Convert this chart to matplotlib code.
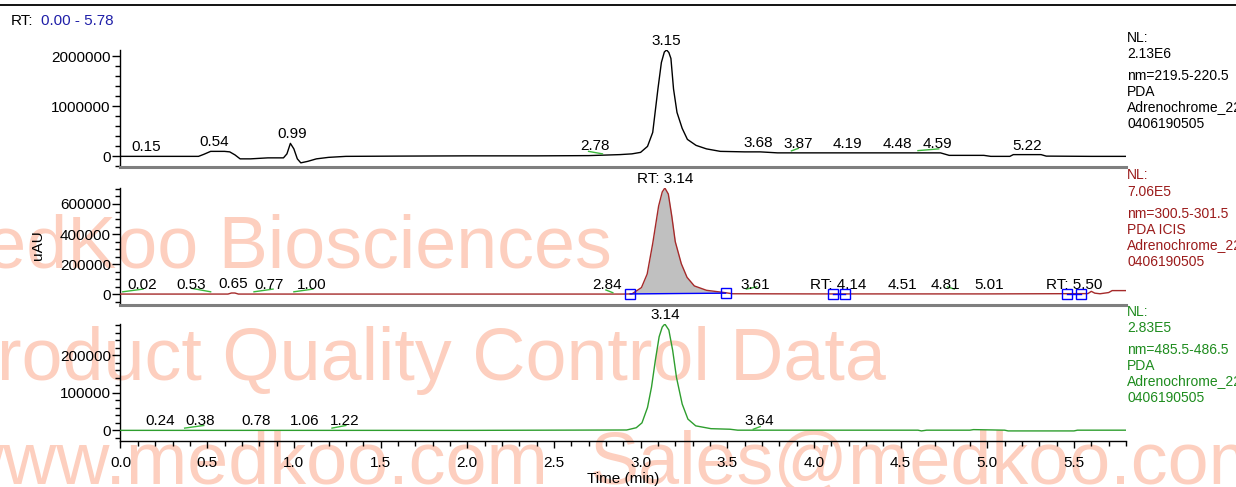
import numpy as np
import matplotlib
matplotlib.use('Agg')
import matplotlib.pyplot as plt
from matplotlib.ticker import MultipleLocator, FuncFormatter

plt.rcParams['font.family'] = ['Liberation Sans', 'DejaVu Sans']

# ---------------- data ----------------
# Panel 1: PDA nm=219.5-220.5 (black)
t1 = [0.00, 0.45, 0.48, 0.52, 0.60, 0.63, 0.66, 0.69, 0.75, 0.85, 0.94, 0.96, 0.98, 1.00,
      1.02, 1.04, 1.08, 1.13, 1.20, 1.30, 1.60, 2.00, 2.40, 2.70, 2.88, 2.95, 3.00, 3.04,
      3.07, 3.10, 3.12, 3.137, 3.15, 3.163, 3.175, 3.19, 3.21, 3.24, 3.27, 3.32, 3.38,
      3.46, 3.60, 3.69, 3.79, 4.20, 4.73, 4.78, 4.98, 5.02, 5.13, 5.15, 5.31, 5.34, 5.60, 5.80]
v1 = [0, 0, 40000, 100000, 100000, 90000, 30000, -50000, -50000, -30000, -30000, 50000,
      260000, 150000, -50000, -130000, -100000, -50000, -20000, 0, 5000, 10000, 10000,
      15000, 35000, 50000, 80000, 200000, 480000, 1350000, 1880000, 2090000, 2130000,
      2080000, 1960000, 1350000, 880000, 560000, 340000, 220000, 150000, 100000, 90000,
      90000, 70000, 70000, 70000, 20000, 20000, 0, 0, 35000, 35000, 5000, 0, 0]
peaks1_rt = [0.15, 0.54, 0.99, 2.78, 3.15, 3.68, 3.87, 4.19, 4.48, 4.59, 5.22]
peaks1_h = [0, 100000, 260000, 20000, 2130000, 90000, 70000, 70000, 70000, 70000, 35000]
labels1 = ['0.15', '0.54', '0.99', '2.78', '3.15', '3.68', '3.87', '4.19', '4.48', '4.59', '5.22']

# Panel 2: PDA ICIS nm=300.5-301.5 (dark red)
t2 = [0.00, 0.62, 0.64, 0.66, 0.68, 2.90, 2.95, 3.005, 3.038, 3.07, 3.104, 3.125, 3.14,
      3.16, 3.18, 3.20, 3.235, 3.268, 3.31, 3.38, 3.49, 3.53, 4.00, 5.00, 5.58, 5.60, 5.62,
      5.65, 5.70, 5.72, 5.80]
v2 = [2000, 2000, 9000, 9000, 2000, 2000, 3000, 45000, 135000, 338000, 586000, 680000,
      706000, 666000, 519000, 350000, 203000, 113000, 56000, 27000, 11000, 4000, 3000,
      3000, 5000, 20000, 8000, 4000, 12000, 25000, 25000]
peaks2_rt = [0.02, 0.53, 0.65, 0.77, 1.00, 2.84, 3.14, 3.61, 4.14, 4.51, 4.81, 5.01, 5.50]
peaks2_h = [2000, 2000, 9000, 2000, 2000, 2000, 706000, 4000, 3000, 3000, 3000, 3000, 5000]
labels2 = ['0.02', '0.53', '0.65', '0.77', '1.00', '2.84', 'RT: 3.14', '3.61', 'RT: 4.14',
           '4.51', '4.81', '5.01', 'RT: 5.50']
# integration boundaries (start, end) of detected peaks
bounds2 = [(2.94, 3.49), (4.11, 4.18), (5.46, 5.54)]
base2 = [(3000, 8000), (3000, 3000), (3000, 3000)]

# Panel 3: PDA nm=485.5-486.5 (green)
t3 = [0.00, 1.20, 2.00, 2.92, 2.975, 3.008, 3.04, 3.063, 3.085, 3.107, 3.125, 3.14, 3.163,
      3.185, 3.207, 3.24, 3.273, 3.318, 3.406, 3.516, 3.56, 4.60, 4.62, 4.65, 4.90, 4.92,
      5.10, 5.12, 5.50, 5.52, 5.80]
v3 = [0, 0, 0, 1000, 7000, 20000, 61000, 115000, 186000, 249000, 275000, 283000, 267000,
      213000, 141000, 70000, 30000, 12000, 4500, 3000, 500, 500, -1500, 500, 500, 2000,
      500, -1500, -1500, 500, 500]
peaks3_rt = [0.24, 0.38, 0.78, 1.06, 1.22, 3.14, 3.64]
peaks3_h = [0, 0, 0, 0, 0, 283000, 500]
labels3 = ['0.24', '0.38', '0.78', '1.06', '1.22', '3.14', '3.64']

# small green peak-baseline marks (t0, v0, t1, v1)
marks1 = [(2.70, 100000, 2.78, 50000), (3.87, 110000, 3.91, 160000), (4.60, 115000, 4.72, 150000)]
marks2 = [(0.013, 17000, 0.13, 35000), (0.41, 40000, 0.52, 17000), (0.77, 17000, 0.88, 35000),
          (1.00, 17000, 1.11, 35000), (2.80, 29000, 2.84, 11000), (3.61, 35000, 3.67, 50000),
          (4.77, 50000, 4.81, 35000)]
marks3 = [(0.37, 6000, 0.48, 13000), (1.22, 6000, 1.30, 13000), (3.65, 3000, 3.69, 10000)]

NL = [2.13e6, 7.06e5, 2.83e5]
info = [['NL:', '2.13E6', 'nm=219.5-220.5', 'PDA', 'Adrenochrome_22', '0406190505'],
        ['NL:', '7.06E5', 'nm=300.5-301.5', 'PDA ICIS', 'Adrenochrome_22', '0406190505'],
        ['NL:', '2.83E5', 'nm=485.5-486.5', 'PDA', 'Adrenochrome_22', '0406190505']]

# ---------------- layout / style ----------------
W, H = 1236, 487
fig = plt.figure(figsize=(W / 100, H / 100), dpi=100)

line_colors = ['black', '#A52A2A', '#2E9E2E']
text_colors = ['black', '#9B1B1B', '#1E8C1E']
mark_color = '#3CB83C'
# label x offsets in pixels (to reproduce label spreading)
dx1 = [0, 0, 0, -7, 0, 0, 7, 1, 0, 21, 2]
dx2 = [18, -21, 0, 15, 18, -6, 0, 9, 0, 0, -9, 0, 0]
dx3 = [-2, 14, 0, 0, 13, 0, 8]

left_px, right_px = 120.5, 1126
panel_tops = [50, 188, 324]
panel_h = 117

def fx(px):
    return px / W

def fy(py):
    return 1 - py / H

# watermark (behind axes)
wm_color = '#FDCFBF'
wm_size = 53
fig.text(fx(612), fy(268), 'MedKoo Biosciences', ha='right', va='baseline',
         fontsize=wm_size, color=wm_color, zorder=-5)
fig.text(fx(886), fy(380), 'Product Quality Control Data', ha='right', va='baseline',
         fontsize=wm_size, color=wm_color, zorder=-5)
fig.text(fx(548), fy(484), 'www.medkoo.com', ha='right', va='baseline',
         fontsize=wm_size, color=wm_color, zorder=-5)
fig.text(fx(590), fy(484), 'Sales@medkoo.com', ha='left', va='baseline',
         fontsize=wm_size, color=wm_color, zorder=-5)

fmt = FuncFormatter(lambda v, p: f"{int(round(v))}")

series = [(t1, v1), (t2, v2), (t3, v3)]
peaks = [(peaks1_rt, peaks1_h, labels1, dx1), (peaks2_rt, peaks2_h, labels2, dx2),
         (peaks3_rt, peaks3_h, labels3, dx3)]
marks = [marks1, marks2, marks3]
majors = [1e6, 2e5, 1e5]
minors = [2e5, 5e4, 2e4]

axes = []
for i in range(3):
    top = panel_tops[i]
    ax = fig.add_axes([fx(left_px), fy(top + panel_h), fx(right_px) - fx(left_px), panel_h / H])
    ax.patch.set_alpha(0)
    axes.append(ax)
    t, v = series[i]
    ax.plot(t, v, color=line_colors[i], lw=1.0, zorder=3)
    ax.set_xlim(0, 5.80)
    ax.set_ylim(-0.1 * NL[i], NL[i])
    for side in ['top', 'right']:
        ax.spines[side].set_visible(False)
    ax.spines['left'].set_linewidth(1.0)
    ax.yaxis.set_major_locator(MultipleLocator(majors[i]))
    ax.yaxis.set_minor_locator(MultipleLocator(minors[i]))
    ax.yaxis.set_major_formatter(fmt)
    ax.tick_params(axis='y', which='major', direction='out', length=6, width=1,
                   labelsize=11, pad=1)
    ax.tick_params(axis='y', which='minor', direction='out', length=3.8, width=1)
    if i < 2:
        ax.spines['bottom'].set_color('#7F7F7F')
        ax.spines['bottom'].set_linewidth(2.2)
        ax.tick_params(axis='x', which='both', bottom=False, labelbottom=False)
    else:
        ax.spines['bottom'].set_linewidth(1.0)
        ax.xaxis.set_major_locator(MultipleLocator(0.5))
        ax.xaxis.set_minor_locator(MultipleLocator(0.1))
        ax.xaxis.set_major_formatter(FuncFormatter(lambda v, p: f"{v:.1f}"))
        ax.tick_params(axis='x', which='major', direction='out', length=5, width=1,
                       labelsize=11, pad=6)
        ax.tick_params(axis='x', which='minor', direction='out', length=3.5, width=1)
        ax.set_xlabel('Time (min)', fontsize=11, labelpad=1)

    # peak labels
    rts, hs, labs, dxs = peaks[i]
    for rt, h, lab, dx in zip(rts, hs, labs, dxs):
        ax.annotate(lab, xy=(rt, h), xytext=(dx, 5), textcoords='offset pixels',
                    ha='center', va='baseline', fontsize=11, color='black',
                    annotation_clip=False, zorder=5)
    # green baseline marks
    for (a0, b0, a1, b1) in marks[i]:
        ax.plot([a0, a1], [b0, b1], color=mark_color, lw=1.0, zorder=4)

    # right-hand info text
    offs = [0, 16.5, 38, 54, 70, 86]
    for s, o in zip(info[i], offs):
        fig.text(fx(right_px + 1), fy(top - 12.5 + o), s, ha='left', va='center',
                 fontsize=10, color=text_colors[i])

# integrated peak on panel 2
ax2 = axes[1]
t2a = np.array(t2, dtype=float)
v2a = np.array(v2, dtype=float)
(s0, e0), (b0, b1) = bounds2[0], base2[0]
sel = (t2a >= s0) & (t2a <= e0)
tt = np.concatenate([[s0], t2a[sel], [e0]])
vv = np.concatenate([[np.interp(s0, t2a, v2a)], v2a[sel], [np.interp(e0, t2a, v2a)]])
bb = np.interp(tt, [s0, e0], [b0, b1])
ax2.fill_between(tt, bb, vv, color='#C0C0C0', lw=0, zorder=2)
for (s, e), (ba, bz) in zip(bounds2, base2):
    ax2.plot([s, e], [ba, bz], color='#0000FF', lw=1.0, zorder=4)
    ax2.plot([s, e], [ba, bz], ls='none', marker='s', ms=6.5, mfc='none', mec='#0000FF',
             mew=1.0, zorder=6, clip_on=False)

# y label
fig.text(fx(38), fy(245), 'uAU', rotation=90, ha='center', va='center', fontsize=11)

# header
fig.add_artist(plt.Line2D([0, 1], [fy(5), fy(5)], color='black', lw=1.3))
fig.text(fx(11), fy(21), 'RT:', ha='left', va='center', fontsize=11, color='black')
fig.text(fx(41.5), fy(21), '0.00 - 5.78', ha='left', va='center', fontsize=11, color='#1F1FA8')

fig.savefig('out.png', dpi=100)
